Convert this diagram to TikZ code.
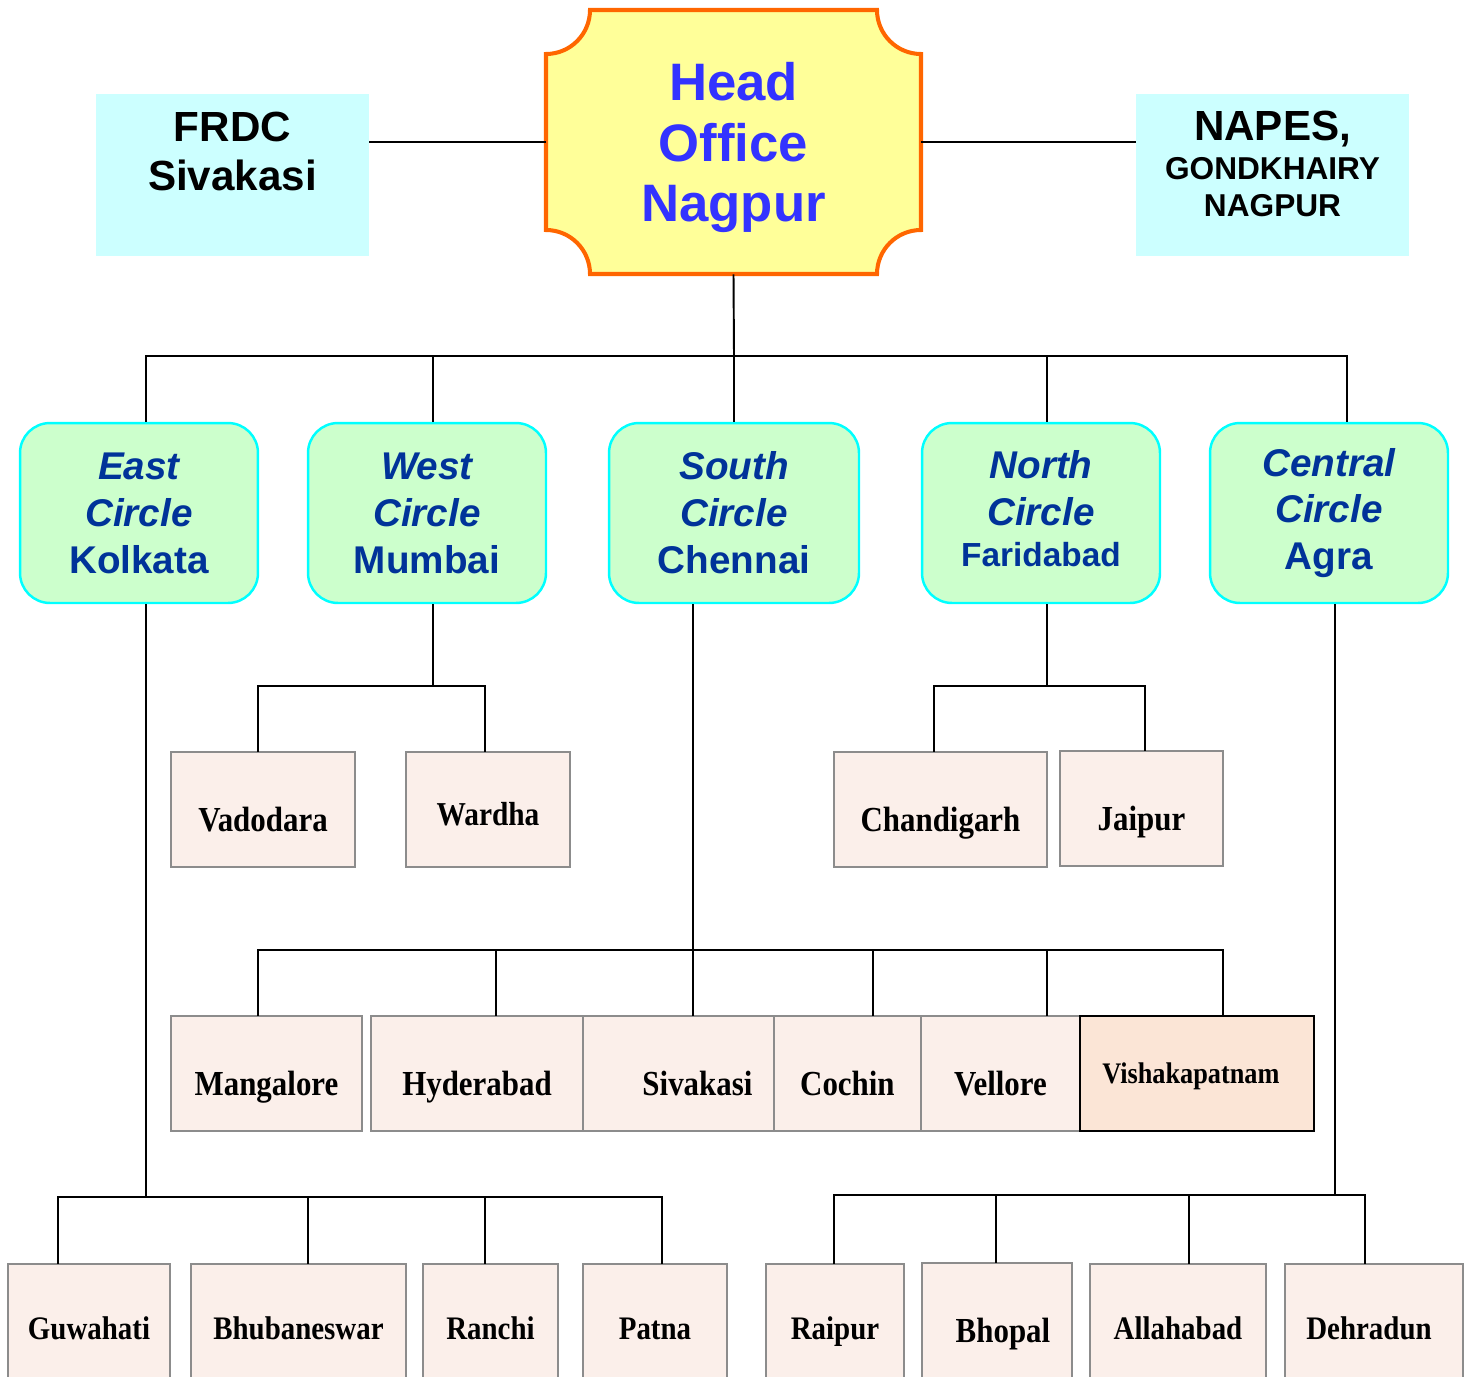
\documentclass[tikz,border=0pt]{standalone}
\usepackage{fontspec}
\setsansfont{Liberation Sans}
\newfontfamily\cityfont[FakeStretch=0.88]{Liberation Serif}
\usetikzlibrary{positioning}
\definecolor{headfill}{HTML}{FFFF99}
\definecolor{headline}{HTML}{FF6600}
\definecolor{headtext}{HTML}{3333FF}
\definecolor{infofill}{HTML}{CCFFFF}
\definecolor{circfill}{HTML}{CCFFCC}
\definecolor{circline}{HTML}{00FFFF}
\definecolor{circtext}{HTML}{003399}
\definecolor{offfill}{HTML}{FBEFEA}
\definecolor{offline}{HTML}{8C8C8C}
\definecolor{vizfill}{HTML}{FBE5D6}
\tikzset{
  headframe/.style={
    draw=headline, fill=headfill, line width=2.3pt
  },
  headnode/.style={
    minimum width=7.5cm, minimum height=5.28cm, inner sep=0mm, align=center,
    text=headtext, font=\sffamily\bfseries\fontsize{30}{34.6}\selectfont
  },
  infobox/.style={
    fill=infofill, minimum width=5.46cm, minimum height=3.24cm, inner sep=0mm
  },
  infotext/.style={
    inner sep=0mm, align=center, font=\sffamily\bfseries\fontsize{24}{27.8}\selectfont
  },
  circbox/.style={
    draw=circline, fill=circfill, line width=1.4pt, rounded corners=0.6cm,
    minimum width=4.76cm, minimum height=3.6cm, inner sep=0mm, align=center,
    text=circtext, font=\sffamily\bfseries\fontsize{22}{26.7}\selectfont
  },
  office/.style={
    draw=offline, fill=offfill, line width=1.1pt, inner sep=0mm, outer sep=0mm,
    text height=1.58cm, text depth=0.72cm,
    font=\cityfont\bfseries\fontsize{20}{24}\selectfont
  },
  lowoffice/.style={
    office, text height=1.5cm, text depth=1.14cm,
    font=\cityfont\bfseries\fontsize{18.7}{22}\selectfont
  },
  link/.style={line width=1.1pt}
}
\begin{document}
\begin{tikzpicture}[x=0.02cm, y=-0.02cm]
 \useasboundingbox (0,0) rectangle (1474,1376);
 \clip (0,0) rectangle (1474,1376);

 % head office
 \draw[headframe] (590,10) -- (877,10) arc[start angle=180, end angle=90, radius=44]
   -- (921,230) arc[start angle=270, end angle=180, radius=44]
   -- (590,274) arc[start angle=0, end angle=-90, radius=44]
   -- (546,54) arc[start angle=90, end angle=0, radius=44] -- cycle;
 \node[headnode] (head) at (733.5,142) {\rule{0pt}{28pt}Head\\Office\\Nagpur};

 \node[infobox] (frdc) at (232.5,175) {};
 \node[infotext, below=0.36cm of frdc.north] (frdctext) {FRDC\\Sivakasi};
 \node[infobox] (napes) at (1272.5,175) {};
 \node[infotext, font=\sffamily\bfseries\fontsize{24}{21}\selectfont, below=0.34cm of napes.north] (napestext)
   {NAPES,\\[1pt]{\fontsize{18}{21}\selectfont GONDKHAIRY}\\{\fontsize{18}{21}\selectfont NAGPUR}};

 % circles
 \node[circbox] (east) at (139,513) {\itshape East\\\itshape Circle\\Kolkata};
 \node[circbox] (west) at (427,513) {\itshape West\\\itshape Circle\\Mumbai};
 \node[circbox, minimum width=5cm] (south) at (734,513) {\itshape South\\\itshape Circle\\Chennai};
 \node[circbox] (north) at (1041,513)
   {\itshape North\\\itshape Circle\\[-3.5pt]{\fontsize{19}{22}\selectfont Faridabad\rule[-5.5pt]{0pt}{5.5pt}}};
 \node[circbox] (central) at (1329,513) {\itshape Central\\\itshape Circle\\Agra};

 % regional offices
 \node[office, minimum width=3.68cm] (vadodara) at (263,809.5) {Vadodara};
 \node[office, minimum width=3.28cm, text height=1.46cm, text depth=0.84cm,
   font=\cityfont\bfseries\fontsize{19}{22}\selectfont] (wardha) at (488,809.5) {Wardha};
 \node[office, minimum width=4.26cm] (chandigarh) at (940.5,809.5) {Chandigarh};
 \node[office, minimum width=3.26cm] (jaipur) at (1141.5,808.5) {Jaipur};

 \node[office, minimum width=3.82cm] (mangalore) at (266.5,1073.5) {Mangalore};
 \node[office, minimum width=4.24cm] (hyderabad) at (477,1073.5) {Hyderabad};
 \node[office, minimum width=3.82cm, right=0pt of hyderabad] (sivakasi) {\hspace*{0.76cm}Sivakasi};
 \node[office, minimum width=2.94cm, right=0pt of sivakasi] (cochin) {Cochin};
 \node[office, minimum width=3.18cm, right=0pt of cochin] (vellore) {Vellore};
 \node[office, draw=black, fill=vizfill, minimum width=4.68cm, text height=1.34cm, text depth=0.96cm,
   font=\cityfont\bfseries\fontsize{17}{20}\selectfont, right=0pt of vellore] (vizag) {Vishakapatnam\hspace*{0.24cm}};

 \node[lowoffice, minimum width=3.24cm] (guwahati) at (89,1330) {Guwahati};
 \node[lowoffice, minimum width=4.3cm] (bhubaneswar) at (298.5,1330) {Bhubaneswar};
 \node[lowoffice, minimum width=2.7cm] (ranchi) at (490.5,1330) {Ranchi};
 \node[lowoffice, minimum width=2.88cm] (patna) at (655,1330) {Patna};
 \node[lowoffice, minimum width=2.76cm] (raipur) at (835,1330) {Raipur};
 \node[lowoffice, minimum width=3cm, text height=1.58cm, text depth=1.06cm,
   font=\cityfont\bfseries\fontsize{20}{24}\selectfont] (bhopal) at (997,1329) {\hspace*{0.24cm}Bhopal};
 \node[lowoffice, minimum width=3.52cm] (allahabad) at (1178,1330) {Allahabad};
 \node[lowoffice, minimum width=3.56cm] (dehradun) at (1374,1330) {Dehradun\hspace*{0.2cm}};

 % connectors
 \coordinate (tophub) at (734,356);
 \coordinate (westhub) at (433,686);
 \coordinate (northhub) at (1047,686);
 \coordinate (southhub) at (693,950);
 \coordinate (easthub) at (146,1197);
 \coordinate (centralhub) at (1335,1195);

 \draw[link] (frdc.east |- head.west) -- (head.west);
 \draw[link] (head.east) -- (napes.west |- head.east);
 \draw[link] (head.south) -- (tophub) -- (south.north);
 \foreach \c/\x in {east/146, west/433, north/1047, central/1347}
   \draw[link] (tophub) -| (\c.north -| \x,0);

 \draw[link] (westhub |- west.south) -- (westhub);
 \foreach \o/\x in {vadodara/258, wardha/485}
   \draw[link] (westhub) -| (\o.north -| \x,0);
 \draw[link] (northhub |- north.south) -- (northhub);
 \foreach \o/\x in {chandigarh/934, jaipur/1145}
   \draw[link] (northhub) -| (\o.north -| \x,0);
 \draw[link] (southhub |- south.south) -- (southhub);
 \foreach \o/\x in {mangalore/258, hyderabad/496, sivakasi/693, cochin/873, vellore/1047, vizag/1223}
   \draw[link] (southhub) -| (\o.north -| \x,0);
 \draw[link] (easthub |- east.south) -- (easthub);
 \foreach \o/\x in {guwahati/58, bhubaneswar/308, ranchi/485, patna/662}
   \draw[link] (easthub) -| (\o.north -| \x,0);
 \draw[link] (centralhub |- central.south) -- (centralhub);
 \foreach \o/\x in {raipur/834, bhopal/996, allahabad/1189, dehradun/1365}
   \draw[link] (centralhub) -| (\o.north -| \x,0);
\end{tikzpicture}
\end{document}
